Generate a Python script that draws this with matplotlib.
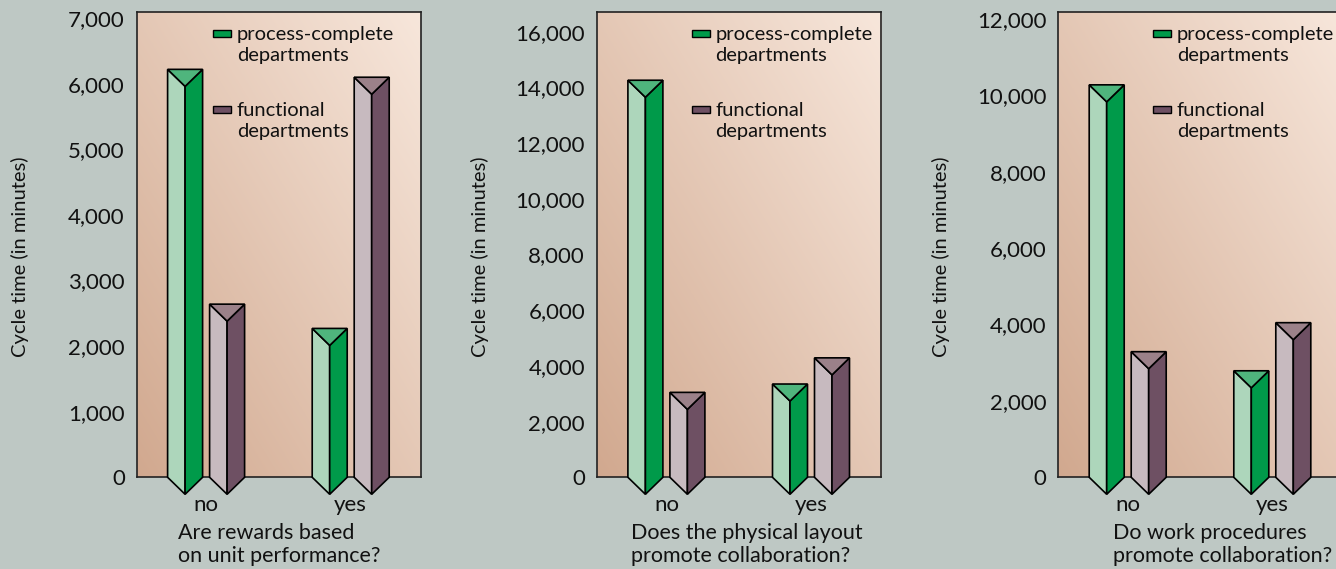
import matplotlib.pyplot as plt
import numpy as np
from matplotlib.patches import Polygon, Rectangle
from matplotlib.ticker import FuncFormatter, MultipleLocator

plt.rcParams['font.family'] = ['Lato', 'DejaVu Sans']

# data: cycle time (minutes) for "no" / "yes" answers
categories = ['no', 'yes']
questions = ['Are rewards based\non unit performance?',
             'Does the physical layout\npromote collaboration?',
             'Do work procedures\npromote collaboration?']
rewards_pc = [6220, 2270]
rewards_fn = [2640, 6100]
layout_pc = [14260, 3350]
layout_fn = [3050, 4290]
procedures_pc = [10280, 2790]
procedures_fn = [3290, 4050]
y_tops = [7090, 16700, 12180]
y_steps = [1000, 2000, 2000]

panels = [(rewards_pc, rewards_fn), (layout_pc, layout_fn), (procedures_pc, procedures_fn)]

# colours: (light face, dark face, top cap)
green = ('#add6bb', '#009a4a', '#4fb57d')
purple = ('#c7babf', '#6e5063', '#9b8189')
bg = '#bec8c4'

W, H = 1336, 569
box_w, box_h = 284, 465
box_lefts = [136.7, 597, 1058.3]
box_bottom = H - 477.3
legend_x = [76, 94.5, 94.5]
qlabel_x = [41.6, 33.7, 54.4]

# x units: one unit = distance between "no" and "yes" groups
unit = 144.6
x_lo = -69.4 / unit
x_hi = (box_w - 69.4) / unit
bar_w = 35 / unit
offset = 21 / unit

fig = plt.figure(figsize=(W / 100, H / 100), dpi=100, facecolor=bg)

# diagonal gradient for the plot area
n = 200
u, v = np.meshgrid(np.linspace(0, 1, n), np.linspace(0, 1, n))
t = ((u + v) / 2)[..., None]
c_lo = np.array([0.82, 0.66, 0.56])
c_hi = np.array([0.97, 0.905, 0.86])
grad = c_lo + (c_hi - c_lo) * t


def prism(ax, xc, value, depth, cols):
    light, dark, cap = cols
    x0, x1 = xc - bar_w / 2, xc + bar_w / 2
    left = [(x0, value), (xc, value - depth), (xc, -depth), (x0, 0)]
    right = [(xc, value - depth), (x1, value), (x1, 0), (xc, -depth)]
    top = [(x0, value), (x1, value), (xc, value - depth)]
    for pts, c in ((left, light), (right, dark), (top, cap)):
        ax.add_patch(Polygon(pts, closed=True, fc=c, ec='black', lw=1.2,
                             clip_on=False, zorder=3, joinstyle='miter'))


for i, (pc, fn) in enumerate(panels):
    ax = fig.add_axes([box_lefts[i] / W, box_bottom / H, box_w / W, box_h / H])
    ax.imshow(grad, extent=(0, 1, 0, 1), transform=ax.transAxes,
              origin='lower', aspect='auto', zorder=0)
    ax.set_xlim(x_lo, x_hi)
    ax.set_ylim(0, y_tops[i])

    depth = 17 / box_h * y_tops[i]
    for j in range(len(categories)):
        prism(ax, j - offset, pc[j], depth, green)
        prism(ax, j + offset, fn[j], depth, purple)

    for s in ax.spines.values():
        s.set_linewidth(1.2)
        s.set_color('#222222')

    ax.yaxis.set_major_locator(MultipleLocator(y_steps[i]))
    ax.yaxis.set_major_formatter(FuncFormatter(lambda val, p: f'{val:,.0f}'))
    ax.tick_params(axis='y', length=0, pad=8.6, labelsize=16, labelcolor='#111111')
    ax.set_xticks(range(len(categories)))
    ax.set_xticklabels(categories)
    ax.tick_params(axis='x', length=0, pad=13, labelsize=16, labelcolor='#111111')

    ax.text(-117 / box_w, 0.474, 'Cycle time (in minutes)', rotation=90,
            transform=ax.transAxes, ha='center', va='center', fontsize=14.5, color='#111111')
    ax.text(qlabel_x[i] / box_w, -67.5 / box_h, questions[i], transform=ax.transAxes,
            ha='left', va='center', fontsize=15.5, linespacing=1.2, color='#111111')

    # legend drawn by hand
    lx = legend_x[i]
    for (label, cy, col) in (('process-complete\ndepartments', 21.5, green[1]),
                             ('functional\ndepartments', 97.5, purple[1])):
        ax.add_patch(Rectangle((lx / box_w, 1 - (cy + 3.5) / box_h), 18 / box_w, 7 / box_h,
                               transform=ax.transAxes, fc=col, ec='black', lw=1, zorder=4))
        ax.text((lx + 24) / box_w, 1 - (cy + 11.5) / box_h, label, transform=ax.transAxes,
                ha='left', va='center', fontsize=14.5, linespacing=1.29, color='#111111')

fig.savefig('out.png', dpi=100, facecolor=bg)
